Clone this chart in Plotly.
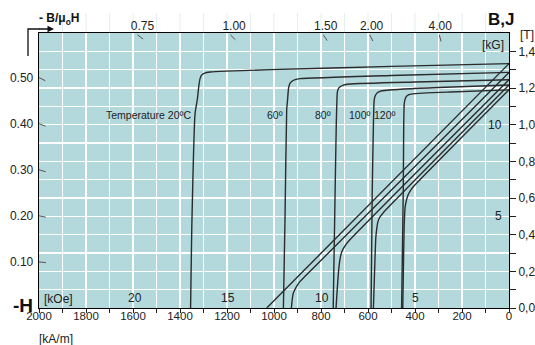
import math
import plotly.graph_objects as go

MU0 = 4 * math.pi * 1e-4  # tesla per (kA/m)

# ---------------- data ----------------
h_ticks = [2000, 1800, 1600, 1400, 1200, 1000, 800, 600, 400, 200, 0]
h_minor = [1900, 1700, 1500, 1300, 1100, 900, 700, 500, 300, 100]
t_ticks = [0.0, 0.2, 0.4, 0.6, 0.8, 1.0, 1.2, 1.4]
t_tick_text = ["0,0", "0,2", "0,4", "0,6", "0,8", "1,0", "1,2", "1,4"]
t_minor = [0.1, 0.3, 0.5, 0.7, 0.9, 1.1, 1.3]
koe_ticks = [20, 15, 10, 5]
kg_ticks = [5, 10]
perm_left = [0.10, 0.20, 0.30, 0.40, 0.50]
perm_left_text = ["0.10", "0.20", "0.30", "0.40", "0.50"]
perm_top = [0.75, 1.00, 1.50, 2.00, 4.00]
perm_top_text = ["0.75", "1.00", "1.50", "2.00", "4.00"]
temp_labels = ["Temperature 20ºC", "60º", "80º", "100º", "120º"]

# intrinsic J curves (H in kA/m, J in T)
j20_h = [0, 500, 1017, 1200, 1272, 1295, 1308, 1315, 1320, 1326, 1336, 1350, 1355]
j20_v = [1.333, 1.318, 1.30, 1.292, 1.287, 1.281, 1.27, 1.25, 1.21, 1.14, 1.06, 0.43, 0.0]
j60_h = [0, 500, 889, 910, 922, 932, 938, 942, 946, 953, 960]
j60_v = [1.285, 1.268, 1.251, 1.246, 1.238, 1.225, 1.20, 1.14, 1.08, 0.5, 0.0]
j80_h = [0, 400, 680, 705, 720, 728, 731, 735, 740, 748]
j80_v = [1.245, 1.233, 1.222, 1.216, 1.205, 1.19, 1.17, 1.0, 0.63, 0.0]
j100_h = [0, 300, 520, 549, 562, 570, 574, 577, 582, 587]
j100_v = [1.216, 1.203, 1.188, 1.182, 1.172, 1.155, 1.13, 1.0, 0.63, 0.0]
j120_h = [0, 250, 410, 428, 438, 443, 446, 448, 450, 457]
j120_v = [1.19, 1.178, 1.168, 1.163, 1.152, 1.135, 1.11, 1.0, 0.63, 0.0]

# normal B curves
b20_h = [0, 1031]
b20_v = [1.333, 0.0]
b60_h = [0, 870, 889, 905, 918, 923, 926]
b60_v = [1.285, 0.17, 0.145, 0.115, 0.08, 0.04, 0.0]
b80_h = [0, 680, 700, 712, 720, 726, 731, 736]
b80_v = [1.245, 0.368, 0.335, 0.305, 0.26, 0.19, 0.1, 0.0]
b100_h = [0, 535, 550, 558, 563, 567, 572, 577]
b100_v = [1.216, 0.52, 0.495, 0.47, 0.43, 0.38, 0.2, 0.0]
b120_h = [0, 410, 422, 430, 437, 442, 446, 449, 452]
b120_v = [1.19, 0.657, 0.635, 0.615, 0.585, 0.55, 0.45, 0.25, 0.0]

# ---------------- layout constants ----------------
W, H = 535, 345
ML, MR, MT, MB = 39, 26, 33, 37
PW, PH = W - ML - MR, H - MT - MB
Y_TOP = 1.50
H_MAX = 2000
FONT = "Liberation Sans, Arial, sans-serif"
LINE = "#2b2b2b"
BG = "#b3d9dd"

sx = PW / H_MAX
sy = PH / Y_TOP


def px_x(px):
    """page pixel x -> paper coordinate"""
    return (px - ML) / PW


def px_y(py):
    """page pixel y -> paper coordinate"""
    return (H - MB - py) / PH


def mark(h0, b0, length=7):
    L = math.hypot(h0 * sx, b0 * sy)
    f = length / L
    return [h0, h0 * (1 - f)], [b0, b0 * (1 - f)]


fig = go.Figure()

curves = [(j20_h, j20_v), (b20_h, b20_v), (j60_h, j60_v), (b60_h, b60_v),
          (j80_h, j80_v), (b80_h, b80_v), (j100_h, j100_v), (b100_h, b100_v),
          (j120_h, j120_v), (b120_h, b120_v)]
for hx, vy in curves:
    fig.add_trace(go.Scatter(x=hx, y=vy, mode="lines",
                             line=dict(color=LINE, width=1.4, shape="spline", smoothing=0.5),
                             showlegend=False, hoverinfo="skip"))

# permeance (B/mu0H) marks on the left and top edges
for p in perm_left:
    mx, my = mark(H_MAX, p * MU0 * H_MAX)
    fig.add_trace(go.Scatter(x=mx, y=my, mode="lines", line=dict(color="#555", width=1),
                             showlegend=False, hoverinfo="skip"))
top_label_h = []
for p in perm_top:
    b0 = Y_TOP - 0.01
    mx, my = mark(b0 / (p * MU0), b0)
    fig.add_trace(go.Scatter(x=mx, y=my, mode="lines", line=dict(color="#555", width=1),
                             showlegend=False, hoverinfo="skip"))
    top_label_h.append((Y_TOP - 0.03) / (p * MU0))

# dummy trace to activate the overlay axes
fig.add_trace(go.Scatter(x=[None], y=[None], xaxis="x2", yaxis="y2",
                         showlegend=False, hoverinfo="skip"))

tickfont = dict(family=FONT, size=12, color="#222")

fig.update_layout(
    width=W, height=H, autosize=False,
    margin=dict(l=ML, r=MR, t=MT, b=MB),
    paper_bgcolor="white", plot_bgcolor=BG,
    font=dict(family=FONT, color="#222"),
    xaxis=dict(range=[H_MAX, 0], tickmode="array", tickvals=h_ticks,
               ticktext=[str(v) for v in h_ticks], ticks="outside", ticklen=4,
               tickcolor="#222", tickfont=dict(family=FONT, size=11.5, color="#222"),
               showgrid=True, gridcolor="white", gridwidth=1.4,
               minor=dict(tickvals=h_minor, ticks="outside", ticklen=4, tickcolor="#222",
                          showgrid=True, gridcolor="white", gridwidth=1.4),
               showline=True, linecolor="black", linewidth=1.3, mirror=True,
               zeroline=False, ticklabelstandoff=-7, automargin=False),
    xaxis2=dict(range=[H_MAX, 0], overlaying="x", side="top", tickmode="array",
                tickvals=top_label_h, ticktext=perm_top_text, ticks="",
                tickfont=tickfont, showgrid=False, zeroline=False, showline=False,
                automargin=False),
    yaxis=dict(range=[0, Y_TOP], tickmode="array",
               tickvals=[p * MU0 * H_MAX for p in perm_left], ticktext=perm_left_text,
               ticks="", tickfont=tickfont, showgrid=False, zeroline=False,
               showline=True, linecolor="black", linewidth=1.3, mirror=True,
               automargin=False, ticklabelstandoff=2),
    yaxis2=dict(range=[0, Y_TOP], overlaying="y", side="right", tickmode="array",
                tickvals=t_ticks, ticktext=t_tick_text, ticks="outside", ticklen=6,
                tickcolor="#222", tickfont=dict(family=FONT, size=12, color="#222"),
                showgrid=True, gridcolor="white", gridwidth=1.4,
                minor=dict(tickvals=t_minor, ticks="outside", ticklen=6, tickcolor="#222",
                           showgrid=True, gridcolor="white", gridwidth=1.4),
                zeroline=False, showline=False, ticklabelstandoff=0, automargin=False),
)

# faint grid continuation above the plot
for hv in h_ticks + h_minor:
    if 0 < hv < H_MAX:
        fig.add_shape(type="line", xref="x", yref="paper", x0=hv, x1=hv,
                      y0=1.0, y1=px_y(13), line=dict(color="#e4eff1", width=1), layer="below")

ann = []
# temperature labels
label_pos = [(1345, "right"), (996, "center"), (790, "center"), (634, "center"), (528, "center")]
for txt, (hx, anc) in zip(temp_labels, label_pos):
    ann.append(dict(x=hx, y=1.054, xref="x", yref="y", text=txt, showarrow=False,
                    xanchor=anc, yanchor="middle", font=dict(family=FONT, size=10.5, color="#222")))
# kOe labels
for k in koe_ticks:
    ann.append(dict(x=k * 1000 / (4 * math.pi), y=px_y(298), xref="x", yref="paper",
                    text=str(k), showarrow=False, xanchor="center", yanchor="middle",
                    font=dict(family=FONT, size=12, color="#222")))
ann.append(dict(x=px_x(42), y=px_y(299), xref="paper", yref="paper", text="[kOe]",
                showarrow=False, xanchor="left", yanchor="middle",
                font=dict(family=FONT, size=12, color="#222")))
# kG labels
for k in kg_ticks:
    ann.append(dict(x=px_x(504), y=k / 10, xref="paper", yref="y", text=str(k),
                    showarrow=False, xanchor="right", yanchor="middle",
                    font=dict(family=FONT, size=12, color="#222")))
ann.append(dict(x=px_x(506), y=px_y(45), xref="paper", yref="paper", text="[kG]",
                showarrow=False, xanchor="right", yanchor="middle",
                font=dict(family=FONT, size=12, color="#222")))
# axis titles
ann.append(dict(x=px_x(527), y=px_y(35), xref="paper", yref="paper", text="[T]",
                showarrow=False, xanchor="center", yanchor="middle",
                font=dict(family=FONT, size=12, color="#222")))
ann.append(dict(x=px_x(501), y=px_y(20), xref="paper", yref="paper", text="<b>B,J</b>",
                showarrow=False, xanchor="center", yanchor="middle",
                font=dict(family=FONT, size=17, color="#111")))
ann.append(dict(x=px_x(23), y=px_y(305), xref="paper", yref="paper", text="<b>-H</b>",
                showarrow=False, xanchor="center", yanchor="middle",
                font=dict(family=FONT, size=19, color="#111")))
ann.append(dict(x=px_x(37), y=px_y(339), xref="paper", yref="paper", text="[kA/m]",
                showarrow=False, xanchor="left", yanchor="middle",
                font=dict(family=FONT, size=12, color="#222")))
ann.append(dict(x=px_x(37), y=px_y(19), xref="paper", yref="paper",
                text="<b>- B/μ<sub>o</sub>H</b>", showarrow=False, xanchor="left",
                yanchor="middle", font=dict(family=FONT, size=12, color="#111")))
# arrow head of the corner arrow
ann.append(dict(x=px_x(54), y=px_y(29), xref="paper", yref="paper", ax=-16, ay=0,
                axref="pixel", ayref="pixel", text="", showarrow=True, arrowhead=2,
                arrowsize=1, arrowwidth=1.3, arrowcolor="#111"))
fig.update_layout(annotations=ann)
fig.add_shape(type="path", xref="paper", yref="paper",
              path=f"M {px_x(28)} {px_y(56)} L {px_x(28)} {px_y(29)} L {px_x(40)} {px_y(29)}",
              line=dict(color="#111", width=1.3))

fig.write_html("out.html",
               config={"displayModeBar": False, "staticPlot": True},
               post_script="document.body.style.margin='0';document.body.style.overflow='hidden';")
